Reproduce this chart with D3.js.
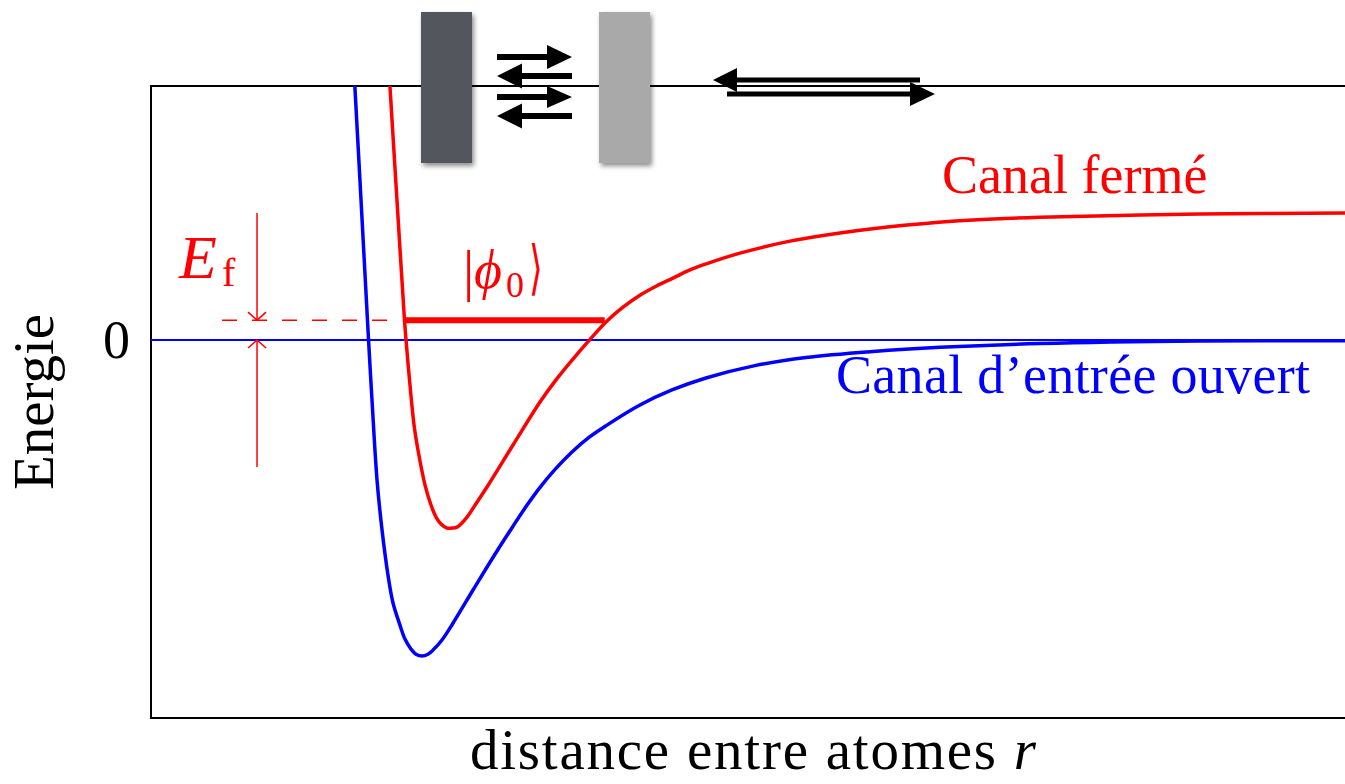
<!DOCTYPE html>
<html>
<head>
<meta charset="utf-8">
<script src="https://cdn.jsdelivr.net/npm/d3@7"></script>
<style>
  html, body { margin: 0; padding: 0; background: #fff; }
  svg { display: block; }
  text { font-family: "Liberation Serif", "DejaVu Serif", serif; }
</style>
</head>
<body>
<svg id="chart" width="1345" height="784"></svg>
<script>
// ---------- data (r: distance, arbitrary units; E: energy, arbitrary units) ----------
const openR   = [1.700, 1.759, 1.822, 1.851, 1.893, 1.935, 1.985, 2.027, 2.085, 2.127, 2.178, 2.219, 2.270, 2.320, 2.362, 2.437, 2.529, 2.697, 2.864, 3.032, 3.141, 3.250, 3.384, 3.526, 3.668, 3.811, 4.087, 4.363, 4.648, 5.067, 5.486, 6.047, 6.608, 7.446, 8.786, 10.05];
const openE   = [8.54, 4.43, 0.00, -1.90, -4.43, -6.01, -7.44, -8.32, -9.02, -9.46, -9.78, -9.94, -10.0, -9.94, -9.81, -9.49, -8.96, -7.91, -6.88, -5.89, -5.27, -4.70, -4.09, -3.54, -3.08, -2.71, -2.07, -1.58, -1.20, -0.80, -0.55, -0.36, -0.23, -0.11, -0.03, -0.02];
const closedR = [1.993, 2.060, 2.123, 2.136, 2.169, 2.203, 2.236, 2.295, 2.345, 2.387, 2.429, 2.479, 2.521, 2.563, 2.647, 2.730, 2.814, 3.032, 3.258, 3.400, 3.534, 3.677, 3.819, 3.953, 4.095, 4.238, 4.372, 4.514, 4.657, 4.933, 5.352, 5.771, 6.332, 6.884, 7.446, 8.786, 10.05];
const closedE = [8.54, 4.43, 0.63, 0.00, -1.42, -2.69, -3.48, -4.59, -5.22, -5.60, -5.82, -5.95, -5.95, -5.92, -5.60, -5.13, -4.65, -3.32, -1.96, -1.22, -0.60, 0.02, 0.60, 1.04, 1.42, 1.72, 1.96, 2.22, 2.42, 2.75, 3.13, 3.39, 3.64, 3.80, 3.89, 3.99, 4.02];
const boundLevelE = 0.63;          // energy of |phi0>
const boundLevelR = [2.123, 3.80]; // extent of bound level line
const dashedR = [0.595, 1.985];    // dashed reference line extent
const efArrowR = 0.888;            // position of E_f arrows
const efArrowUpperE = 4.02;
const efArrowLowerE = -4.02;
const yTickValues = [0];
const yTickLabels = ["0"];
const labelClosed = "Canal fermé";
const labelOpen = "Canal d’entrée ouvert";
const xTitle = "distance entre atomes ";
const yTitle = "Energie";

// ---------- layout ----------
const svg = d3.select("#chart");
const pLeft = 151, pRight = 1345, pTop = 86, pBottom = 718;
const x = d3.scaleLinear().domain([0, 10]).range([pLeft, pRight]);
const y = d3.scaleLinear().domain([-11.96, 8.04]).range([pBottom, pTop]);
const RED = "#ff0000", BLUE = "#0000ff";

const defs = svg.append("defs");
defs.append("clipPath").attr("id", "plotClip")
  .append("rect").attr("x", pLeft).attr("y", pTop).attr("width", pRight - pLeft + 10).attr("height", pBottom - pTop);
const shadow = defs.append("filter").attr("id", "shadow").attr("x", "-30%").attr("y", "-20%").attr("width", "160%").attr("height", "140%");
shadow.append("feDropShadow").attr("dx", 2).attr("dy", 3).attr("stdDeviation", 2.5).attr("flood-color", "#000").attr("flood-opacity", 0.45);

// frame
svg.append("rect").attr("x", pLeft).attr("y", pTop).attr("width", pRight - pLeft + 20).attr("height", pBottom - pTop)
  .attr("fill", "none").attr("stroke", "#000").attr("stroke-width", 2);

const plot = svg.append("g").attr("clip-path", "url(#plotClip)");

// zero line
plot.append("line").attr("x1", x(0)).attr("x2", x(10.1)).attr("y1", y(yTickValues[0])).attr("y2", y(yTickValues[0]))
  .attr("stroke", BLUE).attr("stroke-width", 2);

const line = d3.line().x(d => x(d[0])).y(d => y(d[1])).curve(d3.curveCatmullRom.alpha(0.5));
const openData = openR.map((r, i) => [r, openE[i]]);
const closedData = closedR.map((r, i) => [r, closedE[i]]);

plot.append("path").attr("d", line(openData)).attr("fill", "none").attr("stroke", BLUE).attr("stroke-width", 3.5).attr("stroke-linejoin", "round");
plot.append("path").attr("d", line(closedData)).attr("fill", "none").attr("stroke", RED).attr("stroke-width", 3.5).attr("stroke-linejoin", "round");

// bound level
plot.append("line").attr("x1", x(boundLevelR[0])).attr("x2", x(boundLevelR[1]))
  .attr("y1", y(boundLevelE)).attr("y2", y(boundLevelE)).attr("stroke", RED).attr("stroke-width", 6);

// dashed line
plot.append("line").attr("x1", x(dashedR[0])).attr("x2", x(dashedR[1]))
  .attr("y1", y(boundLevelE)).attr("y2", y(boundLevelE))
  .attr("stroke", RED).attr("stroke-width", 1.5).attr("stroke-dasharray", "15,15");

// E_f arrows
const ax = x(efArrowR);
function efArrow(fromE, toE) {
  const y0 = y(fromE), y1 = y(toE);
  const dir = Math.sign(y1 - y0);
  const g = plot.append("g").attr("stroke", RED).attr("stroke-width", 1.5).attr("fill", "none");
  g.append("line").attr("x1", ax).attr("x2", ax).attr("y1", y0).attr("y2", y1);
  g.append("path").attr("d", `M${ax - 9},${y1 - dir * 8} L${ax},${y1} L${ax + 9},${y1 - dir * 8}`);
}
efArrow(efArrowUpperE, boundLevelE);
efArrow(efArrowLowerE, 0);

// ---------- texts ----------
svg.append("text").attr("x", 130).attr("y", y(yTickValues[0]) + 18).attr("text-anchor", "end")
  .attr("font-size", 54).text(yTickLabels[0]);

svg.append("text").attr("transform", `translate(53,${(pTop + pBottom) / 2}) rotate(-90)`)
  .attr("text-anchor", "middle").attr("font-size", 57).text(yTitle);

const xt = svg.append("text").attr("x", 470).attr("y", 769).attr("font-size", 57)
  .attr("textLength", 566).attr("lengthAdjust", "spacing");
xt.append("tspan").text(xTitle);
xt.append("tspan").attr("font-style", "italic").text("r");

svg.append("text").attr("x", 942).attr("y", 193).attr("fill", RED).attr("font-size", 54).text(labelClosed);
svg.append("text").attr("x", 836).attr("y", 393).attr("fill", BLUE).attr("font-size", 54)
  .attr("textLength", 474).attr("lengthAdjust", "spacing").text(labelOpen);

// E_f label
svg.append("text").attr("x", 179).attr("y", 278).attr("fill", RED).attr("font-size", 62)
  .attr("font-style", "italic").text("E");
svg.append("text").attr("x", 222).attr("y", 286).attr("fill", RED).attr("font-size", 40).text("f");

// |phi0> label
svg.append("text").attr("x", 463).attr("y", 290).attr("fill", RED).attr("font-size", 56).text("|");
svg.append("text").attr("x", 474).attr("y", 288).attr("fill", RED).attr("font-size", 54).attr("font-style", "italic").text("ϕ");
svg.append("text").attr("x", 506).attr("y", 297).attr("fill", RED).attr("font-size", 36).text("0");
svg.append("text").attr("transform", "translate(529,288) scale(0.8,1.35)").attr("fill", RED).attr("font-size", 44)
  .attr("font-family", "DejaVu Sans, sans-serif").text("⟩");

// ---------- top schematic ----------
svg.append("rect").attr("x", 421).attr("y", 12).attr("width", 51).attr("height", 151)
  .attr("fill", "#53565c").attr("filter", "url(#shadow)");
svg.append("rect").attr("x", 599).attr("y", 12).attr("width", 51).attr("height", 151)
  .attr("fill", "#a8a9a8").attr("filter", "url(#shadow)");

function fatArrow(xStart, xEnd, yc, shaft, headW, headL) {
  const d = Math.sign(xEnd - xStart);
  const hb = xEnd - d * headL;
  const p = [
    [xStart, yc - shaft / 2], [hb, yc - shaft / 2], [hb, yc - headW / 2], [xEnd, yc],
    [hb, yc + headW / 2], [hb, yc + shaft / 2], [xStart, yc + shaft / 2]
  ];
  svg.append("path").attr("d", "M" + p.map(q => q.join(",")).join("L") + "Z").attr("fill", "#000");
}
fatArrow(497, 572, 57, 6, 24, 25);
fatArrow(572, 497, 76, 6, 25, 25);
fatArrow(497, 572, 97, 6, 22, 25);
fatArrow(572, 497, 116, 6, 25, 25);
fatArrow(920, 713, 80, 5, 24, 24);
fatArrow(727, 935, 94, 5, 24, 25);
</script>
</body>
</html>
